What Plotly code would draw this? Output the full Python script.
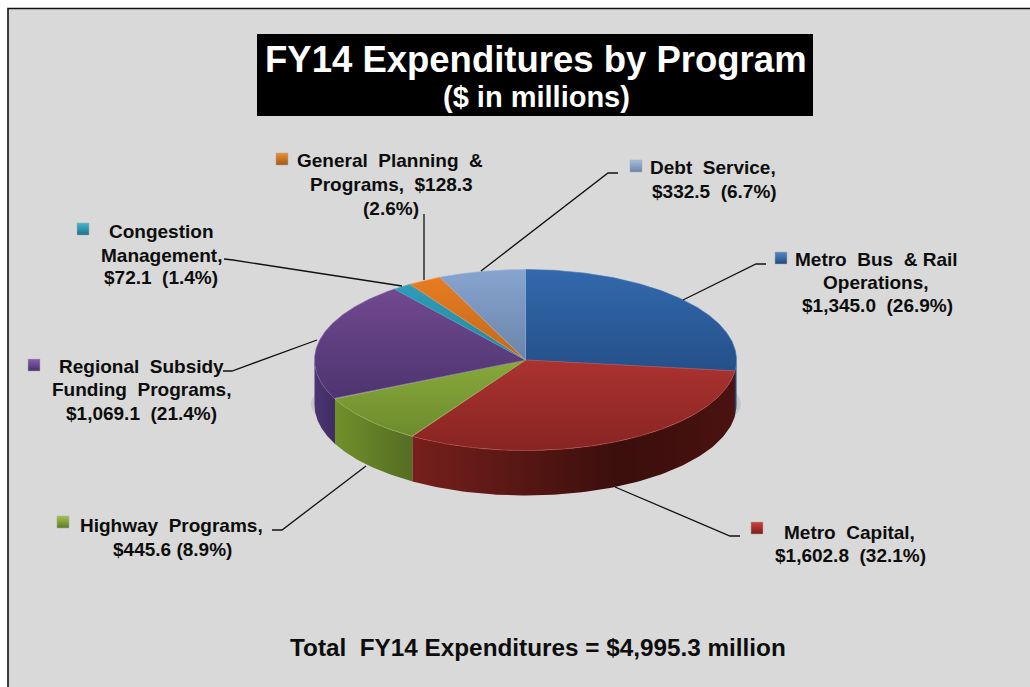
import numpy as np
import plotly.graph_objects as go

# ---- data ----
categories = ["Metro Bus & Rail Operations", "Metro Capital", "Highway Programs",
              "Regional Subsidy Funding Programs", "Congestion Management",
              "General Planning & Programs", "Debt Service"]
values = [1345.0, 1602.8, 445.6, 1069.1, 72.1, 128.3, 332.5]
label_lines = [
    ["Metro  Bus  & Rail", "Operations,", "$1,345.0  (26.9%)"],
    ["Metro  Capital,", "$1,602.8  (32.1%)"],
    ["Highway  Programs,", "$445.6 (8.9%)"],
    ["Regional  Subsidy", "Funding  Programs,", "$1,069.1  (21.4%)"],
    ["Congestion", "Management,", "$72.1  (1.4%)"],
    ["General  Planning  &", "Programs,  $128.3", "(2.6%)"],
    ["Debt  Service,", "$332.5  (6.7%)"],
]
title_main = "FY14 Expenditures by Program"
title_sub = "($ in millions)"
total_text = "Total  FY14 Expenditures = $4,995.3 million"

# ---- styles and layout (pixel-like axis coordinates) ----
top_colors = [("#3269ad", "#25508a"), ("#ab3330", "#872422"), ("#88a93b", "#6d8b2e"),
              ("#71498f", "#4c3470"), ("#2f9cba", "#24879f"), ("#e77c20", "#c0691e"),
              ("#87a4d0", "#6b85a9")]
rim_colors = ["#3f74b5", "#c0504d", "#9bbb59", "#7f5fa5", "#4bacc6", "#f79646", "#95b3d7"]
wall_colors = [
    [[0, "#1f4474"], [1, "#1f4474"]],
    [[0, "#771f1c"], [0.3, "#5a1815"], [0.65, "#3a0e0c"], [1, "#4a1210"]],
    [[0, "#71902b"], [1, "#546d22"]],
    [[0, "#4c3673"], [1, "#3f2c62"]],
]
key_colors = ["#5488c8", "#d0403c", "#a4c24e", "#8a5fb0", "#46b4d0", "#f09030", "#a6bede"]
key_dark = ["#23497f", "#7c1e1c", "#5f7a24", "#46306a", "#1f7188", "#a4561a", "#6a83a8"]
key_xy = [(781, 258), (757, 528), (63, 522), (34, 365), (83, 229), (282, 159), (636, 166)]
line_xy = [
    [(876, 259), (876, 282), (877, 305)],
    [(849, 532), (850, 555)],
    [(171, 525), (172, 549)],
    [(141, 366), (141, 389), (141, 413)],
    [(161, 231), (161, 255), (161, 277)],
    [(390, 160), (391, 184), (391, 208)],
    [(713, 167), (714, 191)],
]
leaders = [
    [(683, 300), (756, 264), (766, 264)],
    [(615, 487), (730, 536), (740, 536)],
    [(366, 466), (282, 530), (272, 530)],
    [(317, 340), (232, 371), (223, 371)],
    [(402, 286), (233, 260), (224, 259)],
    [(424, 280), (424, 214)],
    [(481, 271), (608, 173), (618, 173)],
]
CX, CY, RX, RY, DEPTH = 525.5, 360.0, 211.0, 90.5, 45.0
FONT = "Liberation Sans"
INK = "#0d0d0d"


def ell(theta, dy=0.0):
    return CX + RX * np.sin(theta), CY - RY * np.cos(theta) + dy


fig = go.Figure()
total = sum(values)
edges = np.concatenate([[0], np.cumsum(values)]) / total * 2 * np.pi

# walls first (front half of the disc only)
for i in range(len(values)):
    a, b = max(edges[i], np.pi / 2), min(edges[i + 1], 3 * np.pi / 2)
    if b <= a:
        continue
    t = np.linspace(a, b, 100)
    x1, y1 = ell(t)
    x2, y2 = ell(t[::-1], DEPTH)
    xs, ys = np.r_[x1, x2], np.r_[y1, y2]
    fig.add_trace(go.Scatter(
        x=xs, y=ys, mode="lines", fill="toself", line=dict(width=0), hoverinfo="skip",
        showlegend=False,
        fillgradient=dict(type="horizontal", colorscale=wall_colors[i],
                          start=float(xs.min()), stop=float(xs.max()))))

# top faces
for i, name in enumerate(categories):
    t = np.linspace(edges[i], edges[i + 1], 200)
    x1, y1 = ell(t)
    xs, ys = np.r_[CX, x1, CX], np.r_[CY, y1, CY]
    c0, c1 = top_colors[i]
    fig.add_trace(go.Scatter(
        x=xs, y=ys, mode="lines", fill="toself", name=name, showlegend=False,
        line=dict(width=0.6, color=rim_colors[i]), hoverinfo="name",
        fillgradient=dict(type="vertical", colorscale=[[0, c0], [1, c1]],
                          start=float(ys.min()), stop=float(ys.max()))))

# legend keys
fig.add_trace(go.Scatter(
    x=[p[0] for p in key_xy], y=[p[1] for p in key_xy], mode="markers", showlegend=False,
    hoverinfo="skip",
    marker=dict(symbol="square", size=12, color=key_colors,
                gradient=dict(type="vertical", color=key_dark),
                line=dict(width=0.5, color="#a8a8a8"))))

shapes = [
    dict(type="rect", x0=8, y0=9, x1=1031, y1=688, fillcolor="#d9d9d9", line_width=0, layer="below"),
    dict(type="path", path="M 8,688 L 8,8.5 L 1031,8.5", line=dict(color="#111111", width=1.6), layer="below"),
    dict(type="rect", x0=257, y0=34, x1=813, y1=116, fillcolor="#000000", line_width=0, layer="below"),
]
t = np.linspace(0, 2 * np.pi, 120)
shadow = "M " + " L ".join(f"{526 + 215 * np.sin(v):.1f},{404 - 50 * np.cos(v):.1f}" for v in t) + " Z"
shapes.append(dict(type="path", path=shadow, fillcolor="#c6c6c6", line_width=0, layer="below"))
for pts in leaders:
    shapes.append(dict(type="path", path="M " + " L ".join(f"{x},{y}" for x, y in pts),
                       line=dict(color="#111111", width=1.3)))

ann = []
def text(s, x, y, size, color=INK):
    s = s.replace(" ", "\u00a0")
    ann.append(dict(text=f"<b>{s}</b>", x=x, y=y, xref="x", yref="y", showarrow=False,
                    xanchor="center", yanchor="middle",
                    font=dict(family=FONT, size=size, color=color)))

text(title_main, 536, 59, 36.5, "#ffffff")
text(title_sub, 536, 97, 29, "#ffffff")
text(total_text, 538, 647, 24.3)
for lines, xys in zip(label_lines, line_xy):
    for s, (x, y) in zip(lines, xys):
        text(s, x, y, 19)

fig.update_layout(
    width=1030, height=687, margin=dict(l=0, r=0, t=0, b=0), paper_bgcolor="#ffffff",
    plot_bgcolor="rgba(0,0,0,0)", shapes=shapes, annotations=ann,
    xaxis=dict(range=[0, 1030], visible=False, fixedrange=True),
    yaxis=dict(range=[687, 0], visible=False, fixedrange=True),
)
fig.write_html("out.html", post_script="document.body.style.margin='0';document.body.style.overflow='hidden';",
               config={"displayModeBar": False})
